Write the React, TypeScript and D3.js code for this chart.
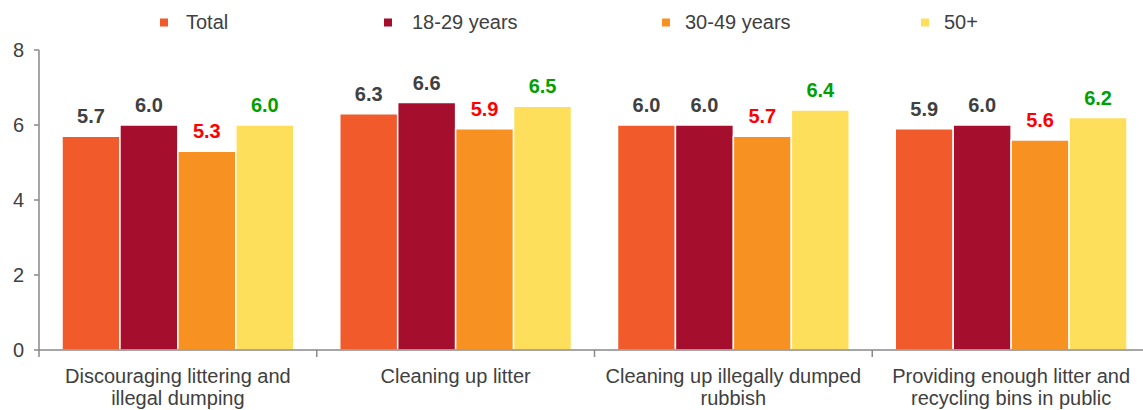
import React from "react";
import * as d3 from "d3";

const categories = [
  ["Discouraging littering and", "illegal dumping"],
  ["Cleaning up litter"],
  ["Cleaning up illegally dumped", "rubbish"],
  ["Providing enough litter and", "recycling bins in public"],
];
const seriesNames = ["Total", "18-29 years", "30-49 years", "50+"];
const total = [5.7, 6.3, 6.0, 5.9];
const age18to29 = [6.0, 6.6, 6.0, 6.0];
const age30to49 = [5.3, 5.9, 5.7, 5.6];
const age50plus = [6.0, 6.5, 6.4, 6.2];
const yTicks = [0, 2, 4, 6, 8];

const seriesValues = [total, age18to29, age30to49, age50plus];
const barColors = ["#F15A2B", "#A50E2D", "#F79122", "#FEDF5C"];
const labelColors = ["#404040", "#404040", "#FF0000", "#00A000"];
const legendX = [160, 384, 662, 921];
const legendTextX = [186, 412, 685, 944];

const W = 1143;
const H = 410;
const FONT = "Arial, 'Liberation Sans', sans-serif";

export default function App() {
  const x0 = 39;
  const x1 = 1150;
  const yTop = 50;
  const yBottom = 350;
  const x = d3.scaleBand<number>().domain(d3.range(categories.length)).range([x0, x1]).padding(0);
  const bw = x.bandwidth();
  const inner = d3.scaleBand<number>().domain(d3.range(seriesNames.length)).range([23, bw - 23]).padding(0);
  const y = d3.scaleLinear().domain([0, 8]).range([yBottom, yTop]);

  return (
    <div style={{ position: "fixed", left: 0, top: 0 }}>
      <svg width={W} height={H} style={{ display: "block", fontFamily: FONT }}>
        <rect x={0} y={0} width={W} height={H} fill="#fff" />
        {/* legend */}
        {seriesNames.map((s, i) => (
          <g key={s}>
            <rect x={legendX[i]} y={18.5} width={8} height={8} fill={barColors[i]} />
            <text x={legendTextX[i]} y={29} fontSize={20} fill="#404040">{s}</text>
          </g>
        ))}
        {/* bars */}
        {categories.map((c, ci) => (
          <g key={ci} transform={`translate(${x(ci)},0)`}>
            {seriesValues.map((vals, si) => {
              const v = vals[ci];
              const bx = inner(si)!;
              return (
                <g key={si}>
                  <rect
                    x={bx}
                    y={y(v)}
                    width={inner.bandwidth()}
                    height={yBottom - y(v)}
                    fill={barColors[si]}
                    stroke="#fff"
                    strokeWidth={1.5}
                  />
                  <text
                    x={bx + inner.bandwidth() / 2}
                    y={y(v) - 13}
                    textAnchor="middle"
                    fontSize={20}
                    fontWeight="bold"
                    fill={labelColors[si]}
                  >
                    {v.toFixed(1)}
                  </text>
                </g>
              );
            })}
          </g>
        ))}
        {/* y axis */}
        <line x1={x0} x2={x0} y1={yTop} y2={yBottom} stroke="#898989" strokeWidth={1.5} />
        {yTicks.map((t) => (
          <g key={t}>
            <line x1={x0 - 5} x2={x0} y1={y(t)} y2={y(t)} stroke="#898989" strokeWidth={1.5} />
            <text x={24} y={y(t) + 7} textAnchor="end" fontSize={20} fill="#404040">{t}</text>
          </g>
        ))}
        {/* x axis */}
        <line x1={x0} x2={W} y1={yBottom} y2={yBottom} stroke="#898989" strokeWidth={1.5} />
        {d3.range(categories.length + 1).map((i) => (
          <line key={i} x1={x0 + i * bw} x2={x0 + i * bw} y1={yBottom} y2={yBottom + 7} stroke="#898989" strokeWidth={1.5} />
        ))}
        {categories.map((lines, ci) => (
          <text key={ci} textAnchor="middle" fontSize={20} fill="#404040">
            {lines.map((l, li) => (
              <tspan key={li} x={x(ci)! + bw / 2} y={382.5 + li * 22.5}>{l}</tspan>
            ))}
          </text>
        ))}
      </svg>
    </div>
  );
}
